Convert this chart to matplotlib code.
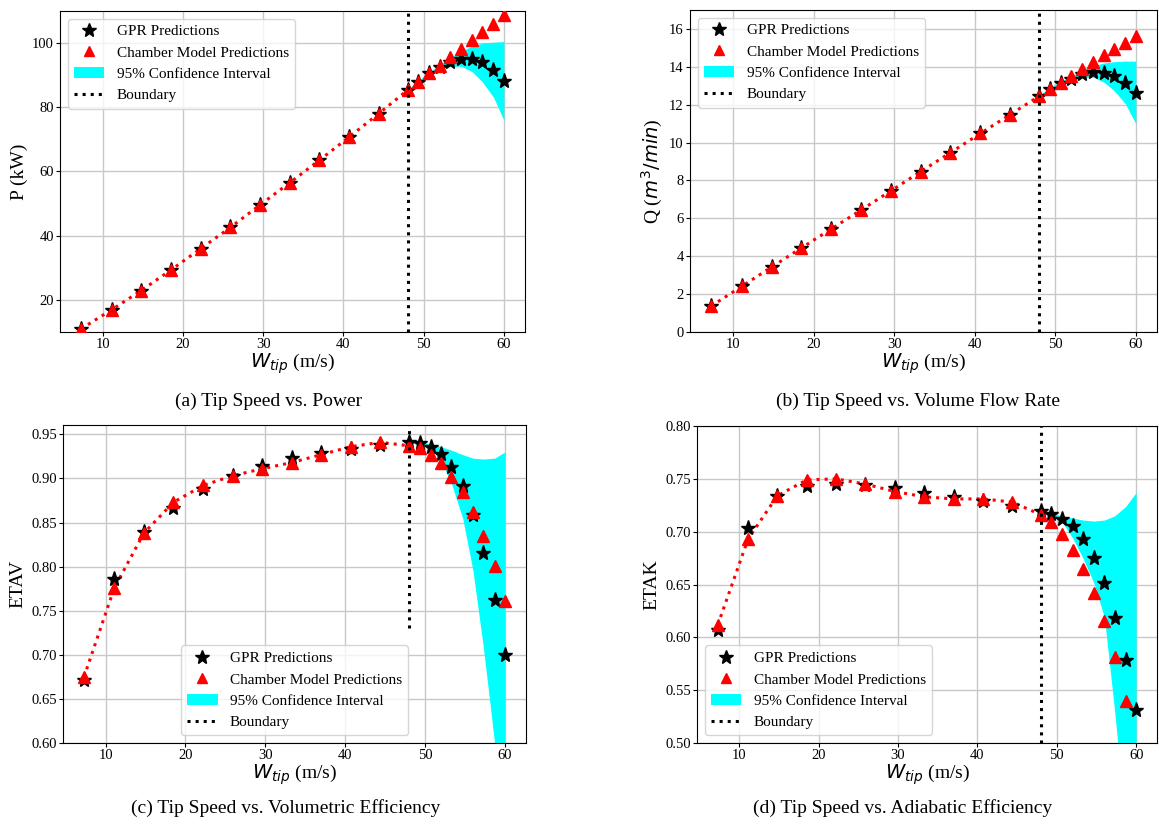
import matplotlib
matplotlib.use('Agg')
import matplotlib.pyplot as plt
from matplotlib.lines import Line2D
from matplotlib.patches import Patch

plt.rcParams['font.family'] = ['Liberation Serif', 'DejaVu Serif']
plt.rcParams['mathtext.fontset'] = 'dejavusans'

# tip speed (m/s)
w_tip = [7.3, 11.1, 14.8, 18.5, 22.2, 25.9, 29.6, 33.3, 37.0, 40.7, 44.4,
         48.0, 49.3, 50.7, 52.0, 53.3, 54.7, 56.0, 57.3, 58.7, 60.0]
boundary = 48.0
n_train = 12  # points up to the boundary
w_ext = w_tip[11:]

# (a) power
p_gpr = [11.0, 16.9, 22.9, 29.3, 35.9, 42.5, 49.5, 56.4, 63.4, 70.6, 77.9,
         85.2, 87.8, 90.4, 92.4, 94.0, 94.8, 94.9, 94.0, 91.6, 88.1]
p_cham = [11.0, 16.9, 22.9, 29.3, 35.9, 42.5, 49.5, 56.4, 63.4, 70.6, 77.9,
          85.2, 87.8, 90.4, 92.7, 95.5, 98.0, 100.7, 103.2, 105.9, 108.5]
p_lo = [85.0, 87.5, 90.0, 91.7, 92.6, 92.6, 91.0, 87.8, 83.0, 75.8]
p_hi = [85.4, 88.1, 90.8, 93.2, 95.4, 97.3, 98.9, 99.8, 100.1, 100.3]

# (b) volume flow
q_gpr = [1.37, 2.41, 3.43, 4.44, 5.44, 6.44, 7.45, 8.47, 9.47, 10.48, 11.48,
         12.45, 12.82, 13.15, 13.38, 13.61, 13.73, 13.70, 13.50, 13.15, 12.62]
q_cham = [1.37, 2.41, 3.43, 4.44, 5.44, 6.44, 7.45, 8.47, 9.47, 10.48, 11.48,
          12.45, 12.82, 13.15, 13.49, 13.86, 14.24, 14.60, 14.93, 15.26, 15.62]
q_lo = [12.40, 12.75, 13.05, 13.28, 13.42, 13.45, 13.20, 12.75, 12.05, 11.00]
q_hi = [12.50, 12.90, 13.25, 13.50, 13.85, 14.05, 14.20, 14.27, 14.30, 14.30]

# (c) volumetric efficiency
v_gpr = [0.672, 0.786, 0.839, 0.867, 0.888, 0.903, 0.914, 0.923, 0.929, 0.933, 0.938,
         0.941, 0.940, 0.936, 0.928, 0.913, 0.891, 0.858, 0.815, 0.762, 0.700]
v_cham = [0.675, 0.776, 0.838, 0.873, 0.892, 0.903, 0.911, 0.918, 0.927, 0.936, 0.941,
          0.937, 0.934, 0.927, 0.917, 0.902, 0.885, 0.862, 0.835, 0.801, 0.761]
v_lo = [0.940, 0.939, 0.933, 0.920, 0.894, 0.855, 0.795, 0.708, 0.600, 0.470]
v_hi = [0.942, 0.942, 0.939, 0.936, 0.932, 0.927, 0.923, 0.922, 0.923, 0.930]

# (d) adiabatic efficiency
k_gpr = [0.607, 0.703, 0.734, 0.743, 0.745, 0.744, 0.741, 0.737, 0.733, 0.729, 0.724,
         0.720, 0.717, 0.712, 0.705, 0.693, 0.675, 0.651, 0.618, 0.579, 0.531]
k_cham = [0.612, 0.693, 0.734, 0.749, 0.750, 0.745, 0.738, 0.733, 0.731, 0.731, 0.728,
          0.716, 0.709, 0.698, 0.683, 0.665, 0.642, 0.615, 0.581, 0.540, 0.490]
k_lo = [0.719, 0.715, 0.709, 0.694, 0.675, 0.651, 0.619, 0.530, 0.420, 0.320]
k_hi = [0.721, 0.718, 0.714, 0.713, 0.711, 0.710, 0.711, 0.715, 0.724, 0.737]

panels = [
    ('P (kW)', p_gpr, p_cham, p_lo, p_hi, (10, 109.8), None, 'upper left',
     '(a) Tip Speed vs. Power'),
    ('Q ($m^3/min$)', q_gpr, q_cham, q_lo, q_hi, (0, 17), None, 'upper left',
     '(b) Tip Speed vs. Volume Flow Rate'),
    ('ETAV', v_gpr, v_cham, v_lo, v_hi, (0.6, 0.9606), 0.73, 'lower center',
     '(c) Tip Speed vs. Volumetric Efficiency'),
    ('ETAK', k_gpr, k_cham, k_lo, k_hi, (0.5, 0.8), None, 'lower left',
     '(d) Tip Speed vs. Adiabatic Efficiency'),
]

W, H = 1159, 825
boxes = [(60, 11, 525, 332), (690, 10, 1157, 332),
         (63, 425, 526, 743), (697, 426, 1157, 743)]
captions_xy = [(269, 401), (918, 401), (286, 808), (903, 808)]

fig = plt.figure(figsize=(W / 100, H / 100), dpi=100)

for (ylab, gpr, cham, lo, hi, ylim, vbot, loc, cap), (x0, y0, x1, y1), (cx, cy) in zip(
        panels, boxes, captions_xy):
    ax = fig.add_axes([x0 / W, 1 - y1 / H, (x1 - x0) / W, (y1 - y0) / H])
    ax.grid(True, color='#c8c8c8', linewidth=1.0)
    ax.set_axisbelow(True)
    ax.fill_between(w_ext, lo, hi, color='cyan', linewidth=0, zorder=2)
    ax.plot(w_tip[:n_train], cham[:n_train], ':', color='red', linewidth=2.2, zorder=3)
    ax.plot(w_tip, gpr, '*', color='black', markersize=11, zorder=4)
    ax.plot(w_tip, cham, '^', color='red', markersize=8, zorder=5)
    ax.set_xlim(4.67, 62.63)
    ax.set_ylim(*ylim)
    if vbot is None:
        ax.axvline(boundary, color='black', linestyle=':', linewidth=2.2, zorder=6)
    else:
        ax.vlines(boundary, vbot, ylim[1], color='black', linestyle=':', linewidth=2.2, zorder=6)
    ax.tick_params(labelsize=10.5, length=3, pad=1.5)
    ax.set_xlabel('$W_{tip}$ (m/s)', fontsize=14, labelpad=0.5)
    ax.set_ylabel(ylab, fontsize=14, labelpad=3)
    handles = [
        Line2D([], [], marker='*', color='black', linestyle='none', markersize=10),
        Line2D([], [], marker='^', color='red', linestyle='none', markersize=7),
        Patch(facecolor='cyan'),
        Line2D([], [], color='black', linestyle=':', linewidth=2.2),
    ]
    labels = ['GPR Predictions', 'Chamber Model Predictions',
              '95% Confidence Interval', 'Boundary']
    ax.legend(handles, labels, loc=loc, fontsize=11)
    fig.text(cx / W, 1 - cy / H, cap, ha='center', va='center', fontsize=14)

fig.savefig('out.png', dpi=100)
